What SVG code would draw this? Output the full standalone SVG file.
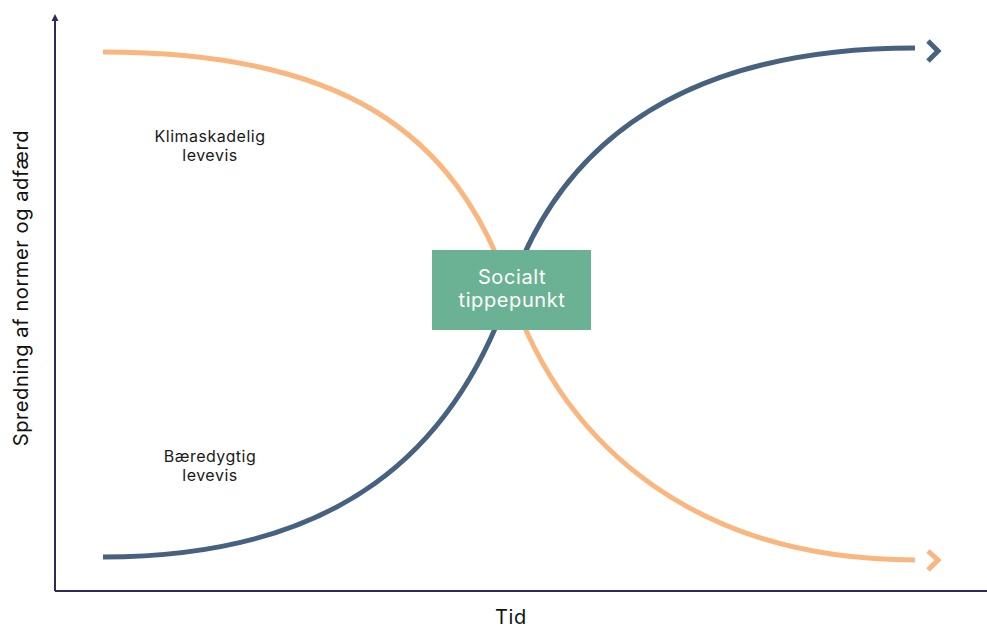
<svg xmlns="http://www.w3.org/2000/svg" width="987" height="629" viewBox="0 0 987 629">
<style>
.lbl{font-family:"Inter","Noto Sans",sans-serif;font-size:16px;letter-spacing:0.5px;fill:#1a1a1a;text-anchor:middle}
.ax{font-family:"Inter","Noto Sans",sans-serif;font-size:20px;letter-spacing:0.6px;fill:#111;text-anchor:middle}
.box{font-family:"Inter","Noto Sans",sans-serif;font-size:20px;letter-spacing:0.6px;fill:#fff;text-anchor:middle}
.blue{fill:none;stroke:#46627f;stroke-width:5;stroke-linecap:butt}
.orange{fill:none;stroke:#f9b77f;stroke-width:5;stroke-linecap:butt}
</style>
<rect width="987" height="629" fill="#fff"/>
<g id="axes">
<path d="M55,591 V20 M55,591 H987" fill="none" stroke="#2e2a5f" stroke-width="2"/>
<path d="M51.5,21 L55,14 L58.5,21 Z" fill="#2e2a5f"/>
</g>
<g id="connectors">
<path class="orange" d="M103,52 C340,52 455,130 510,290 C565,450 700,560 915,560"/>
<polyline class="orange" points="928,551 938,560 928,570"/>
<path class="blue" d="M103,557 C340,557 455,450 510,290 C565,130 700,48 915,48"/>
<polyline class="blue" points="928,41 938,51 928,61"/>
</g>
<g id="tippepunkt">
<rect x="432" y="250" width="159" height="80" fill="#6bb294"/>
<text class="box" x="512" y="284">Socialt</text>
<text class="box" x="512" y="307">tippepunkt</text>
</g>
<g id="klimaskadelig">
<text class="lbl" x="210" y="142">Klimaskadelig</text>
<text class="lbl" x="210" y="161">levevis</text>
</g>
<g id="baeredygtig">
<text class="lbl" x="210" y="462">Bæredygtig</text>
<text class="lbl" x="210" y="481">levevis</text>
</g>
<text class="ax" x="511" y="624">Tid</text>
<text class="ax" font-size="21" transform="translate(28,288) rotate(-90)">Spredning af normer og adfærd</text>
</svg>
